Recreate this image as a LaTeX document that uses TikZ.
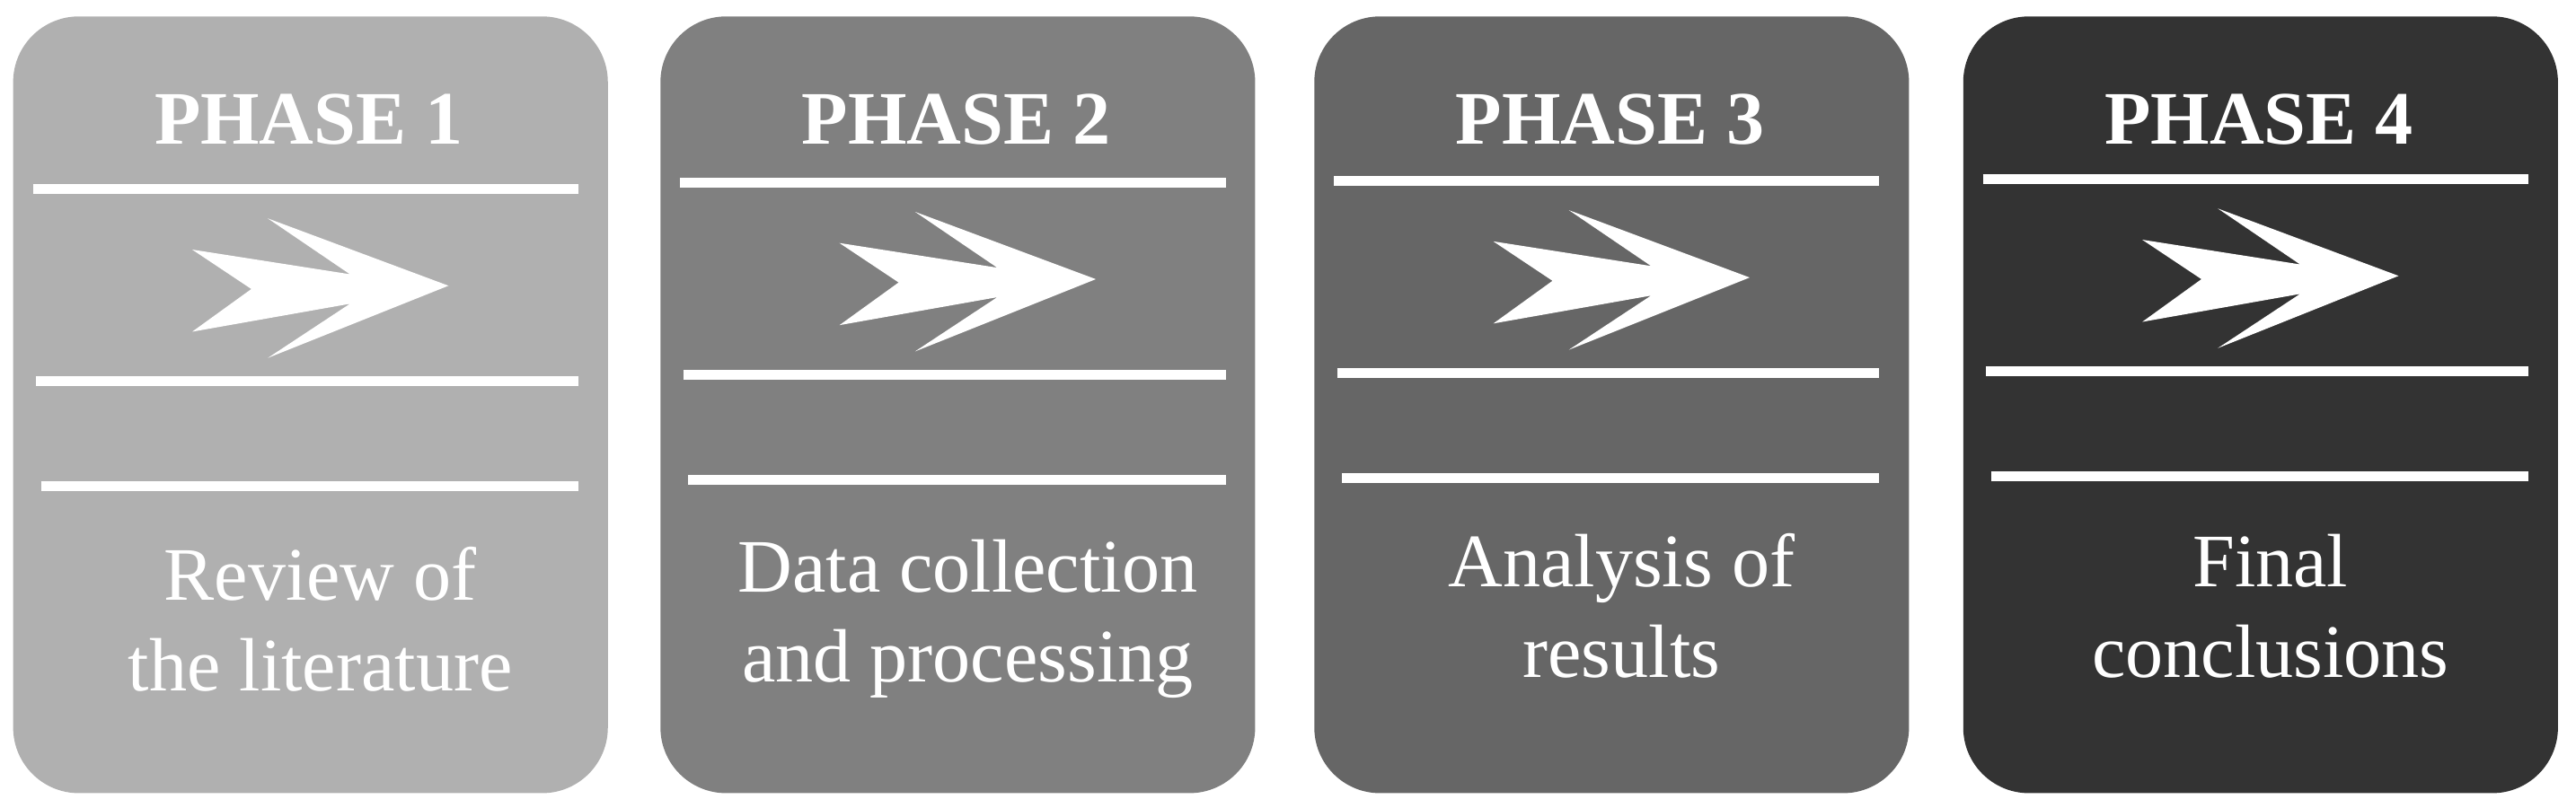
\documentclass[tikz,border=0pt]{standalone}
\usepackage{fontspec}
\setmainfont{Liberation Serif}
\definecolor{c1}{HTML}{B0B0B0}
\definecolor{c2}{HTML}{808080}
\definecolor{c3}{HTML}{666666}
\definecolor{c4}{HTML}{333333}
\begin{document}
\begin{tikzpicture}[x=1pt,y=-1pt,
  box/.style={rounded corners=40pt},
  sep/.style={white,line width=6pt},
  ttl/.style={white,font=\fontsize{46}{50}\selectfont\bfseries},
  txt/.style={white,font=\fontsize{46}{55}\selectfont,align=center}]
\useasboundingbox (0,0) rectangle (1568,492);
\foreach \x/\c/\n/\la/\lb/\lc/\ty/\t [count=\i] in {
  8/c1/1/115/232/296/377/{Review of\\the literature},
  402/c2/2/111/228/292/377/{Data collection\\and processing},
  800/c3/3/110/227/291/369/{Analysis of\\results},
  1195/c4/4/109/226/290/369/{Final\\conclusions}}{
  \fill[\c,box] (\x,10) rectangle ++(362,473);
  \node[ttl] (t\i) at (\x+180,73) {PHASE \n};
  \draw[sep] (\x+12,\la) -- (\x+344,\la);
  \draw[sep] (\x+14,\lb) -- (\x+344,\lb);
  \draw[sep] (\x+17,\lc) -- (\x+344,\lc);
  \fill[white] (\x+265,\la+59) -- (\x+155,\la+18) -- (\x+205,\la+52) -- (\x+109,\la+37)
     -- (\x+145,\la+61) -- (\x+109,\la+87) -- (\x+205,\la+70) -- (\x+155,\la+103) -- cycle;
  \node[txt] (d\i) at (\x+187,\ty) {\t};
}
\end{tikzpicture}
\end{document}
